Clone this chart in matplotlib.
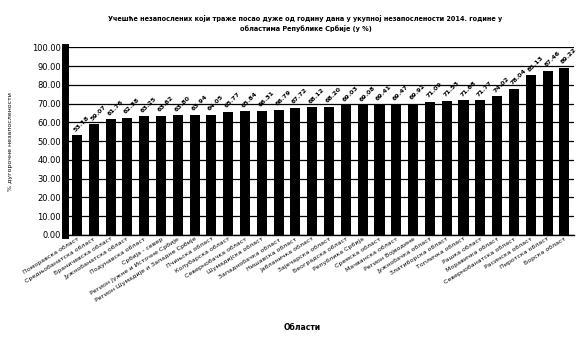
import numpy as np
import matplotlib
matplotlib.use('Agg')
import matplotlib.pyplot as plt

areas = ['Поморавска област', 'Средњобанатска област', 'Браничевска област',
         'Јужнобанатска област', 'Подунавска област', 'Србија - север',
         'Регион Јужне и Источне Србије', 'Регион Шумадије и Западне Србије',
         'Пчињска област', 'Колубарска област', 'Севернобачка област',
         'Шумадијска област', 'Западнобачка област', 'Нишавска област',
         'Јабланичка област', 'Зајечарска област', 'Београдска област',
         'Републикa Србија', 'Сремска област', 'Мачванска област',
         'Регион Војводине', 'Јужнобачка област', 'Златиборска област',
         'Топличка област', 'Рашка област', 'Моравичка област',
         'Севернобанатска област', 'Расинска област', 'Пиротска област',
         'Борска област']
shares = [53.18, 59.07, 61.76, 62.38, 63.25, 63.62, 63.80, 63.94, 64.05, 65.77,
          65.84, 66.31, 66.79, 67.72, 68.12, 68.20, 69.03, 69.08, 69.41, 69.47,
          69.92, 71.09, 71.53, 71.68, 71.77, 74.02, 78.04, 85.13, 87.46, 89.22]
yticks = np.arange(0, 101, 10)

fig = plt.figure(figsize=(5.82, 3.38), dpi=100)
ax = fig.add_axes([0.112, 0.305, 0.875, 0.555])

x = np.arange(len(areas))
ax.bar(x, shares, width=0.6, color='black', zorder=3)
for xi, v in zip(x, shares):
    ax.text(xi - 0.25, v + 1.5, f'{v:.2f}', rotation=45, fontsize=4.6,
            fontweight='bold', ha='left', va='bottom', zorder=4)

ax.set_ylim(0, 100)
ax.set_xlim(-0.7, len(areas) - 0.4)
ax.set_yticks(yticks)
ax.set_yticklabels([f'{t:.2f}' for t in yticks], fontsize=6)
ax.yaxis.grid(True, color='black', linewidth=0.9, zorder=0)
ax.tick_params(axis='y', length=0, pad=3)
ax.tick_params(axis='x', length=0, pad=1)
ax.set_xticks(x)
ax.set_xticklabels(areas, rotation=32, ha='right', fontsize=4.5,
                   rotation_mode='anchor')
for s in ['top', 'right']:
    ax.spines[s].set_visible(False)
ax.spines['left'].set_linewidth(5)
ax.spines['bottom'].set_linewidth(1)

ax.set_ylabel('% дугорочне незапослености', fontsize=4.5, labelpad=14)
fig.text(0.52, 0.025, 'Области', fontsize=5.5, fontweight='bold', ha='center')
fig.text(0.525, 0.93, 'Учешће незапослених који траже посао дуже од годину дана у укупној незапослености 2014. године у\n'
         'областима Републике Србије (у %)', fontsize=4.7, fontweight='bold',
         ha='center', va='center', linespacing=1.6)

fig.savefig('out.png', dpi=100)
